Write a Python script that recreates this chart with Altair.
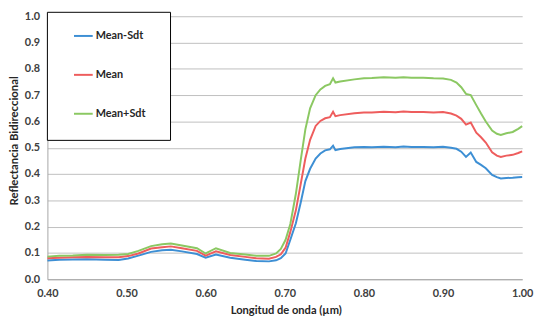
import altair as alt
import pandas as pd

wavelength = [0.400, 0.415, 0.432, 0.450, 0.473, 0.490, 0.502, 0.515, 0.531, 0.545,
              0.556, 0.570, 0.589, 0.600, 0.613, 0.631, 0.650, 0.664, 0.680, 0.689,
              0.695, 0.701, 0.707, 0.714, 0.720, 0.726, 0.732, 0.739, 0.745, 0.751,
              0.757, 0.761, 0.764, 0.770, 0.788, 0.800, 0.810, 0.825, 0.840, 0.850,
              0.860, 0.875, 0.888, 0.900, 0.910, 0.917, 0.923, 0.929, 0.935, 0.942,
              0.948, 0.954, 0.962, 0.968, 0.973, 0.980, 0.988, 0.995, 1.000]

mean_minus_sdt = [0.071, 0.074, 0.075, 0.076, 0.074, 0.073, 0.079, 0.090, 0.104, 0.110,
                  0.112, 0.106, 0.096, 0.082, 0.094, 0.082, 0.074, 0.069, 0.068, 0.072,
                  0.080, 0.098, 0.150, 0.213, 0.290, 0.373, 0.420, 0.459, 0.478, 0.490,
                  0.494, 0.508, 0.491, 0.495, 0.502, 0.503, 0.502, 0.504, 0.502, 0.505,
                  0.503, 0.503, 0.502, 0.504, 0.500, 0.496, 0.485, 0.465, 0.482, 0.446,
                  0.435, 0.422, 0.397, 0.388, 0.383, 0.385, 0.386, 0.388, 0.389]

mean = [0.080, 0.082, 0.084, 0.085, 0.084, 0.084, 0.088, 0.098, 0.117, 0.122,
        0.125, 0.118, 0.108, 0.090, 0.106, 0.092, 0.085, 0.080, 0.078, 0.085,
        0.095, 0.120, 0.180, 0.262, 0.360, 0.459, 0.530, 0.583, 0.602, 0.612,
        0.616, 0.637, 0.620, 0.624, 0.631, 0.634, 0.634, 0.637, 0.635, 0.638,
        0.636, 0.636, 0.634, 0.636, 0.630, 0.622, 0.610, 0.588, 0.596, 0.557,
        0.540, 0.520, 0.483, 0.470, 0.465, 0.470, 0.473, 0.480, 0.486]

mean_plus_sdt = [0.086, 0.089, 0.090, 0.093, 0.092, 0.093, 0.096, 0.108, 0.126, 0.133,
                 0.136, 0.128, 0.118, 0.098, 0.118, 0.100, 0.094, 0.089, 0.089, 0.098,
                 0.115, 0.150, 0.210, 0.325, 0.450, 0.570, 0.650, 0.700, 0.722, 0.735,
                 0.742, 0.764, 0.748, 0.752, 0.760, 0.764, 0.765, 0.768, 0.766, 0.768,
                 0.766, 0.766, 0.764, 0.763, 0.758, 0.748, 0.730, 0.705, 0.700, 0.662,
                 0.630, 0.600, 0.565, 0.553, 0.549, 0.555, 0.560, 0.572, 0.582]

series_names = ["Mean-Sdt", "Mean", "Mean+Sdt"]
series_colors = ["#3D8FD4", "#EE5D5D", "#8BC862"]
x_ticks = [0.40, 0.50, 0.60, 0.70, 0.80, 0.90, 1.00]
y_ticks = [0.0, 0.1, 0.2, 0.3, 0.4, 0.5, 0.6, 0.7, 0.8, 0.9, 1.0]

rows = []
for name, vals in zip(series_names, [mean_minus_sdt, mean, mean_plus_sdt]):
    for w, v in zip(wavelength, vals):
        rows.append({"wl": w, "value": v, "series": name})
df = pd.DataFrame(rows)

FONT = "Lato"
LABEL_COLOR = "#404040"

frame = alt.Chart(alt.Data(values=[{}])).mark_rect(
    fill="white", stroke="black", strokeWidth=1
).encode(
    x=alt.value(0), x2=alt.value(125), y=alt.value(-4), y2=alt.value(126)
)

lines = alt.Chart(df).mark_line(strokeWidth=2).encode(
    x=alt.X("wl:Q",
            scale=alt.Scale(domain=[0.4, 1.0], nice=False, zero=False),
            axis=alt.Axis(values=x_ticks, format=".2f", title="Longitud de onda (µm)",
                          grid=False, ticks=False, domainColor="#a6a6a6",
                          labelFlush=False, labelPadding=9, labelFont=FONT,
                          labelFontSize=11, labelFontWeight="bold",
                          labelColor=LABEL_COLOR,
                          titleFont=FONT, titleFontSize=11.3, titleFontWeight="bold",
                          titleColor="#262626", titleX=242, titleY=32,
                          titleBaseline="middle", titleAlign="center")),
    y=alt.Y("value:Q",
            scale=alt.Scale(domain=[0, 1], nice=False),
            axis=alt.Axis(values=y_ticks, format=".1f", title="Reflectancia Bidireccional",
                          grid=True, gridColor="#bfbfbf", gridWidth=1,
                          ticks=False, domainColor="#a6a6a6",
                          labelPadding=8, labelFont=FONT, labelFontSize=11,
                          labelFontWeight="bold", labelColor=LABEL_COLOR,
                          titleFont=FONT, titleFontSize=11.5, titleFontWeight="bold",
                          titleColor="#262626", titleX=-33, titleY=126,
                          titleAngle=270, titleBaseline="middle", titleAlign="center")),
    color=alt.Color("series:N",
                    scale=alt.Scale(domain=series_names, range=series_colors),
                    sort=series_names,
                    legend=alt.Legend(orient="none", legendX=26, legendY=9.5,
                                      title=None, symbolType="stroke", symbolSize=361,
                                      symbolStrokeWidth=2, symbolOffset=0,
                                      rowPadding=23.5, padding=0, labelOffset=2,
                                      labelFont=FONT, labelFontSize=11,
                                      labelFontWeight="bold", labelColor="#262626",
                                      direction="vertical")),
)

chart = alt.layer(frame, lines).properties(
    width=482, height=267,
    autosize=alt.AutoSizeParams(type="none"),
    padding={"left": 40, "top": 6, "right": 12, "bottom": 39},
).configure_view(stroke=None)

chart.save("out.html", embed_options={"renderer": "svg", "actions": False})
